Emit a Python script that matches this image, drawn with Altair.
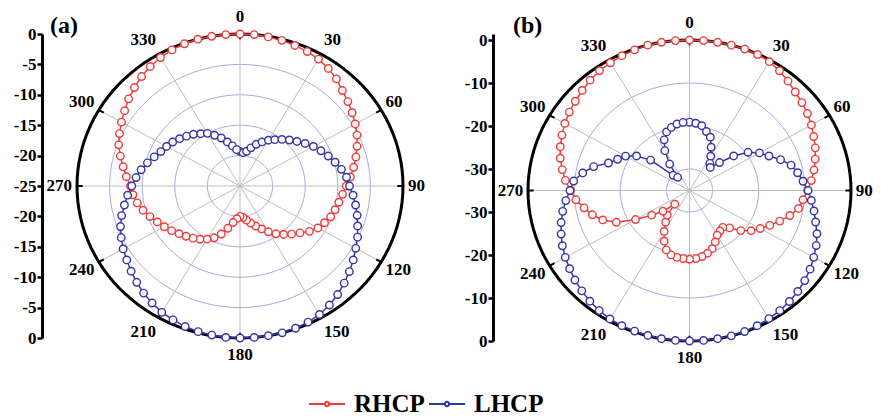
import altair as alt
import pandas as pd

ANGLES = list(range(0, 360, 5))

A_RHCP = [0, 0, -0.1, -0.2, -0.4, -0.6, -0.9, -1.4, -2.0, -2.8, -3.4, -4.0,
          -4.6, -5.2, -5.9, -6.6, -7.3, -8.0, -8.7, -9.2, -9.6, -9.9, -10.2, -10.7,
          -11.2, -12.0, -13.0, -13.8, -14.6, -15.4, -16.3, -17.2, -18.0, -18.7, -19.3, -19.8,
          -20.0, -19.6, -18.9, -17.8, -16.6, -15.6, -14.9, -14.3, -13.8, -13.3, -12.8, -12.2,
          -11.6, -11.0, -10.3, -9.6, -9.0, -8.5, -8.2, -7.5, -6.8, -6.0, -5.2, -4.6,
          -4.0, -3.4, -2.7, -2.1, -1.5, -1.0, -0.6, -0.3, -0.1, 0, 0, 0]
A_LHCP = [-19.3, -19.5, -19.2, -18.5, -17.7, -17.0, -16.3, -15.7, -15.0, -14.3, -13.6, -12.8,
          -12.0, -11.3, -10.6, -9.9, -9.2, -8.6, -8.2, -7.6, -7.0, -6.4, -5.8, -5.1,
          -4.5, -3.8, -3.1, -2.4, -1.7, -1.1, -0.6, -0.3, -0.1, 0, 0, 0,
          0, 0, -0.1, -0.2, -0.4, -0.7, -1.0, -1.5, -2.0, -2.6, -3.2, -3.8,
          -4.3, -4.9, -5.5, -6.2, -7.0, -7.7, -8.4, -9.0, -9.6, -10.3, -11.0, -11.6,
          -12.0, -12.4, -12.9, -13.4, -13.9, -14.5, -15.0, -15.8, -16.6, -17.5, -18.3, -19.0]
B_RHCP = [0, 0, 0, 0, 0, -0.1, -0.4, -1.0, -1.8, -2.6, -3.2, -3.8,
          -4.5, -5.3, -6.0, -6.8, -7.6, -8.5, -9.4, -10.3, -11.0, -12.5, -14.2, -15.8,
          -17.3, -18.7, -20.5, -22.7, -23.8, -23.5, -23.0, -21.8, -20.6, -19.9, -19.4, -19.1,
          -19.0, -19.1, -19.2, -19.5, -20.3, -22.0, -24.0, -26.0, -27.5, -30.5, -27.5, -25.0,
          -21.5, -17.5, -15.0, -13.2, -11.8, -10.3, -9.2, -8.0, -7.0, -6.0, -5.2, -4.5,
          -3.8, -3.2, -2.7, -2.1, -1.5, -1.0, -0.7, -0.4, -0.2, 0, 0, 0]
B_LHCP = [-19.1, -19.3, -19.7, -20.8, -21.8, -23.9, -25.8, -27.3, -28.0, -25.8, -22.5, -19.5,
          -17.5, -16.0, -14.0, -12.2, -11.2, -10.3, -9.3, -8.5, -7.6, -6.7, -5.6, -4.7,
          -3.9, -3.1, -2.4, -1.8, -1.3, -0.9, -0.6, -0.3, -0.1, 0, 0, 0,
          0, 0, 0, -0.1, -0.2, -0.3, -0.5, -0.9, -1.4, -2.0, -2.6, -3.3,
          -3.9, -4.6, -5.4, -6.2, -7.1, -8.1, -9.1, -9.8, -11.5, -13.5, -16.3, -17.8,
          -19.0, -21.0, -24.0, -30.0, -31.0, -27.5, -24.3, -22.0, -20.5, -19.8, -19.3, -19.1]

SERIES = ["RHCP", "LHCP"]
COLORS = ["#F03C3C", "#3535A8"]

ANGLE_LABELS = list(range(0, 360, 30))
A_MIN, B_MIN = -25, -35
A_GRID = [-20, -15, -10, -5]
B_GRID = [-30, -20, -10]
A_AXIS = [0, -5, -10, -15, -20, -25]
B_AXIS = [0, -10, -20, -30]
FONT = "Liberation Serif"
CIRCLE_STEP = list(range(0, 361, 3))


def curve_df(rhcp, lhcp):
    rows = []
    for name, vals in zip(SERIES, [rhcp, lhcp]):
        for a, v in zip(ANGLES + [360], vals + [vals[0]]):
            rows.append({"series": name, "angle": a, "db": v})
    return pd.DataFrame(rows)


def circle_df(levels, rmin):
    rows = []
    for lv in levels:
        for a in CIRCLE_STEP:
            rows.append({"level": lv, "angle": a, "f": (lv - rmin) / (-rmin)})
    return pd.DataFrame(rows)


def panel(rhcp, lhcp, rmin, grid, axis_db, title, w, h, ytop, tdx, tdy):
    span = -rmin
    xs = alt.Scale(domain=[-1, 1], nice=False, zero=False)
    ys = alt.Scale(domain=[-1, ytop], nice=False, zero=False)
    vals = sorted(set([(d - rmin) / span for d in axis_db] + [-(d - rmin) / span for d in axis_db]))
    yaxis = alt.Axis(values=vals, labelExpr="'' + round(%d + %d * abs(datum.value))" % (rmin, span),
                     orient="left", offset=35, title=None, grid=False,
                     domainColor="black", domainWidth=3, tickColor="black", tickWidth=2.5,
                     tickSize=5, labelPadding=1, labelFont=FONT, labelFontSize=17,
                     labelFontWeight="bold", labelColor="black", minExtent=34, maxExtent=34,
                     labelOverlap=False)
    X = lambda f: alt.X(f, type="quantitative", scale=xs, axis=None)
    Y = lambda f: alt.Y(f, type="quantitative", scale=ys, axis=yaxis)

    def xy(ch, r="datum.f"):
        return ch.transform_calculate(
            x="%s * sin(datum.angle * PI / 180)" % r,
            y="%s * cos(datum.angle * PI / 180)" % r)

    color = alt.Color("series:N", scale=alt.Scale(domain=SERIES, range=COLORS),
                      legend=alt.Legend(
                          title=None, orient="none", direction="horizontal",
                          legendX=231, legendY=351,
                          symbolType="M-1,0L-0.12,0M0.12,0L1,0M0.12,0A0.12,0.12,0,1,1,-0.12,0A0.12,0.12,0,1,1,0.12,0",
                          symbolSize=1296, symbolStrokeWidth=2, symbolFillColor="white",
                          labelFont=FONT, labelFontSize=25, labelFontWeight="bold", labelColor="black",
                          labelOffset=8, columnPadding=0, padding=0))

    grid_c = xy(alt.Chart(circle_df(grid, rmin))).mark_line(
        color="#A9A9E2", strokeWidth=1).encode(
        x=X("x"), y=Y("y"), detail="level:N", order="angle:Q")
    spokes_df = pd.DataFrame({"angle": ANGLE_LABELS})
    spokes = alt.Chart(spokes_df).transform_calculate(
        x0="0", y0="0",
        x="sin(datum.angle * PI / 180)", y="cos(datum.angle * PI / 180)"
    ).mark_rule(color="#BDBDBD", strokeWidth=1).encode(
        x=X("x0"), y=Y("y0"), x2="x:Q", y2="y:Q")
    outer = xy(alt.Chart(circle_df([0], rmin))).mark_line(
        color="black", strokeWidth=3).encode(x=X("x"), y=Y("y"), order="angle:Q")
    oticks = alt.Chart(spokes_df).transform_calculate(
        x0="sin(datum.angle * PI / 180)", y0="cos(datum.angle * PI / 180)",
        x="0.965 * sin(datum.angle * PI / 180)", y="0.965 * cos(datum.angle * PI / 180)"
    ).mark_rule(color="black", strokeWidth=2).encode(
        x=X("x0"), y=Y("y0"), x2="x:Q", y2="y:Q")

    cbase = xy(alt.Chart(curve_df(rhcp, lhcp)).transform_calculate(
        f="(datum.db - (%d)) / %d" % (rmin, span)))
    lines = cbase.mark_line(strokeWidth=1.5).encode(
        x=X("x"), y=Y("y"), color=color, order="angle:Q", detail="series:N")
    pts = cbase.transform_filter("datum.angle < 360").mark_point(
        shape="circle", filled=False, fill="white", size=56, strokeWidth=1.4, opacity=1).encode(
        x=X("x"), y=Y("y"), color=color)

    lab_base = alt.Chart(spokes_df).transform_calculate(
        x="1.03 * sin(datum.angle * PI / 180)", y="1.11 * cos(datum.angle * PI / 180)",
        lab="'' + datum.angle")
    tstyle = dict(font=FONT, fontSize=17, fontWeight="bold", color="black", baseline="middle")
    lab_r = lab_base.transform_filter("datum.angle > 0 && datum.angle < 180").mark_text(
        align="left", **tstyle).encode(x=X("x"), y=Y("y"), text="lab:N")
    lab_l = lab_base.transform_filter("datum.angle > 180").mark_text(
        align="right", **tstyle).encode(x=X("x"), y=Y("y"), text="lab:N")
    lab_c = lab_base.transform_filter("datum.angle == 0 || datum.angle == 180").mark_text(
        align="center", **tstyle).encode(x=X("x"), y=Y("y"), text="lab:N")

    return alt.layer(grid_c, spokes, outer, oticks, lines, pts, lab_r, lab_l, lab_c).properties(
        width=w, height=h,
        title=alt.TitleParams(title, anchor="start", frame="group", font=FONT, fontSize=24,
                              fontWeight="bold", color="black", dx=tdx, dy=tdy, offset=-30))


pa = panel(A_RHCP, A_LHCP, A_MIN, A_GRID, A_AXIS, "(a)", 326, 304, 1, -27, 0)
pb = panel(B_RHCP, B_LHCP, B_MIN, B_GRID, B_AXIS, "(b)", 323, 307, 1.04, -15, -6)

chart = alt.hconcat(pa, pb, spacing=125, bounds="flush").properties(
    padding={"left": 0, "top": 0, "right": 0, "bottom": 0}
).configure_view(stroke=None)

chart.save("out.html", embed_options={"renderer": "svg", "actions": False})
